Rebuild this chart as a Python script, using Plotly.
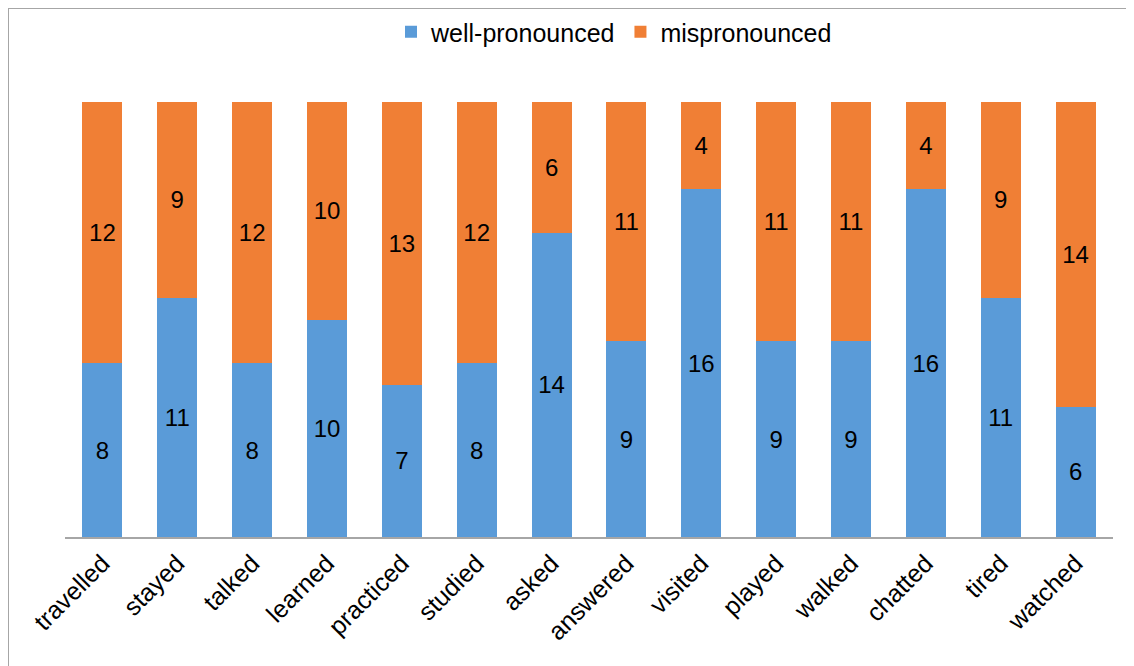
import plotly.graph_objects as go

categories = ["travelled", "stayed", "talked", "learned", "practiced", "studied", "asked",
              "answered", "visited", "played", "walked", "chatted", "tired", "watched"]
well_pronounced = [8, 11, 8, 10, 7, 8, 14, 9, 16, 9, 9, 16, 11, 6]
mispronounced = [12, 9, 12, 10, 13, 12, 6, 11, 4, 11, 11, 4, 9, 14]

# page has an 8px body margin; work in figure coordinates (screen - 8)
W, H = 1126, 658
ML, MR, MT, MB = 57, 21, 94, 129
pw = W - ML - MR
ph = H - MT - MB

def px_x(x):
    return (x - 8 - ML) / pw

def px_y(y):
    return (H - MB - (y - 8)) / ph

font = "Liberation Sans, Arial, sans-serif"

fig = go.Figure()
fig.add_trace(go.Bar(
    x=categories, y=well_pronounced, name="well-pronounced",
    marker=dict(color="#5A9BD8", line=dict(width=0)),
    text=well_pronounced, textposition="inside", insidetextanchor="middle",
    textfont=dict(color="black", size=24, family=font),
))
fig.add_trace(go.Bar(
    x=categories, y=mispronounced, name="mispronounced",
    marker=dict(color="#F07F35", line=dict(width=0)),
    text=mispronounced, textposition="inside", insidetextanchor="middle",
    textfont=dict(color="black", size=24, family=font),
))

fig.update_layout(
    barmode="stack",
    bargap=0.466,
    width=W, height=H,
    margin=dict(l=ML, r=MR, t=MT, b=MB, autoexpand=False),
    paper_bgcolor="white", plot_bgcolor="white",
    font=dict(family=font, size=24, color="black"),
    uniformtext=dict(mode="show", minsize=24),
    legend=dict(orientation="h", x=px_x(614), xanchor="center", y=px_y(32), yanchor="middle",
                font=dict(size=25, family=font), traceorder="normal",
                bgcolor="rgba(0,0,0,0)"),
    xaxis=dict(showline=True, linecolor="#A6A6A6", linewidth=1.5, tickangle=-45,
               ticks="", tickfont=dict(size=25, family=font, color="black"),
               showgrid=False, fixedrange=True, automargin=False),
    yaxis=dict(range=[0, 20], visible=False, showgrid=False, fixedrange=True, automargin=False),
    shapes=[
        dict(type="line", xref="paper", yref="paper", x0=px_x(8), y0=px_y(H + 20),
             x1=px_x(8), y1=px_y(8), line=dict(color="#A6A6A6", width=2)),
        dict(type="line", xref="paper", yref="paper", x0=px_x(8), y0=px_y(8),
             x1=px_x(W + 20), y1=px_y(8), line=dict(color="#A6A6A6", width=2)),
    ],
)

fig.write_html("out.html")
